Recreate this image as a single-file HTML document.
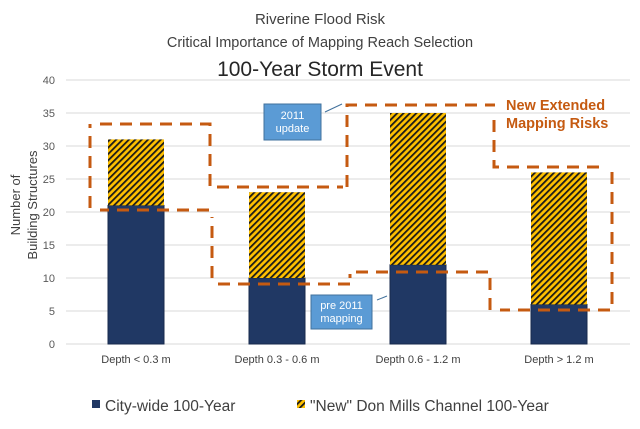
<!DOCTYPE html>
<html><head><meta charset="utf-8"><style>
body{margin:0;background:#fff;}
svg{display:block;font-family:"Liberation Sans",sans-serif;}
</style></head><body>
<svg width="640" height="429" viewBox="0 0 640 429">
<defs>
<pattern id="hatch" width="4.5" height="4.5" patternUnits="userSpaceOnUse" patternTransform="rotate(45)">
<rect width="4.5" height="4.5" fill="#ffc000"/><rect width="1.8" height="4.5" fill="#1a1a1a"/>
</pattern>
</defs>
<text x="320" y="24" text-anchor="middle" font-size="15" fill="#404040">Riverine Flood Risk</text>
<text x="320" y="47" text-anchor="middle" font-size="14.5" fill="#404040">Critical Importance of Mapping Reach Selection</text>
<text x="320" y="76" text-anchor="middle" font-size="21" fill="#262626">100-Year Storm Event</text>
<g id="grid"></g>
<g id="yticks"></g>
<text transform="translate(20,205) rotate(-90)" text-anchor="middle" font-size="13" fill="#404040"><tspan x="0" dy="0">Number of</tspan><tspan x="0" dy="17">Building Structures</tspan></text>
<g id="bars"></g>
<g id="xlabels"></g>
<path fill="none" stroke="#c55a11" stroke-width="3" stroke-dasharray="12 8"
 d="M100 124 H210 V187 H343 M347 187 V105 H495 M494 120 V167 H603 M612 172 V311 M610 310 H500 M490 310 V272 H350 V278 M350 284 H217 M212 278 V217 M209 210 H100 M90 208 V124"/>
<rect x="264" y="104" width="57" height="36" fill="#5b9bd5" stroke="#41719c"/>
<text x="292.5" y="119" text-anchor="middle" font-size="11" fill="#fff"><tspan x="292.5">2011</tspan><tspan x="292.5" dy="13">update</tspan></text>
<line x1="325" y1="112" x2="342" y2="104" stroke="#41719c"/>
<rect x="311" y="295" width="61" height="34" fill="#5b9bd5" stroke="#41719c"/>
<text x="341.5" y="309" text-anchor="middle" font-size="11" fill="#fff"><tspan x="341.5">pre 2011</tspan><tspan x="341.5" dy="13">mapping</tspan></text>
<line x1="377" y1="300" x2="387" y2="296" stroke="#41719c"/>
<text x="506" y="110" font-size="14.5" font-weight="bold" fill="#c55a11"><tspan x="506">New Extended</tspan><tspan x="506" dy="18">Mapping Risks</tspan></text>
<rect x="92" y="400" width="8" height="8" fill="#203864"/>
<text x="105" y="411" font-size="15.5" fill="#404040">City-wide 100-Year</text>
<rect x="297" y="400" width="8" height="8" fill="url(#hatch)"/>
<text x="310" y="411" font-size="15.5" fill="#404040">"New" Don Mills Channel 100-Year</text>
</svg>
<script>
const categories=["Depth < 0.3 m","Depth 0.3 - 0.6 m","Depth 0.6 - 1.2 m","Depth > 1.2 m"];
const cityWide=[21,10,12,6];
const newDonMills=[10,13,23,20];
const yTicks=[0,5,10,15,20,25,30,35,40];
const NS="http://www.w3.org/2000/svg";
const y0=344,pxPer=6.6,xStart=66,step=141,barW=56;
const yScale=v=>y0-v*pxPer;
const xCenter=i=>xStart+70+i*step;
function mk(tag,attrs,parent){const e=document.createElementNS(NS,tag);for(const k in attrs)e.setAttribute(k,attrs[k]);parent.appendChild(e);return e;}
const grid=document.getElementById('grid'),yt=document.getElementById('yticks'),bars=document.getElementById('bars'),xl=document.getElementById('xlabels');
yTicks.forEach(t=>{
 const l=mk('line',{x1:66,x2:630,y1:yScale(t),y2:yScale(t),stroke:'#d9d9d9','stroke-width':1},grid);
 
 
 const tx=mk('text',{x:55,y:yScale(t)+4,'text-anchor':'end','font-size':11,fill:'#595959'},yt);
 tx.textContent=t;
 
 
});
categories.forEach((c,i)=>{
 const x=xCenter(i)-barW/2;
 const b1=mk('rect',{x:x,y:yScale(cityWide[i]),width:barW,height:cityWide[i]*pxPer,fill:'#203864',stroke:'#172a4d','stroke-width':1},bars);
 
 
 const tot=cityWide[i]+newDonMills[i];
 const b2=mk('rect',{x:x,y:yScale(tot),width:barW,height:newDonMills[i]*pxPer,fill:'url(#hatch)'},bars);
 
 
 const tx=mk('text',{x:xCenter(i),y:363,'text-anchor':'middle','font-size':11,fill:'#404040'},xl);
 tx.textContent=c;
 
 
});
</script>
</body></html>
